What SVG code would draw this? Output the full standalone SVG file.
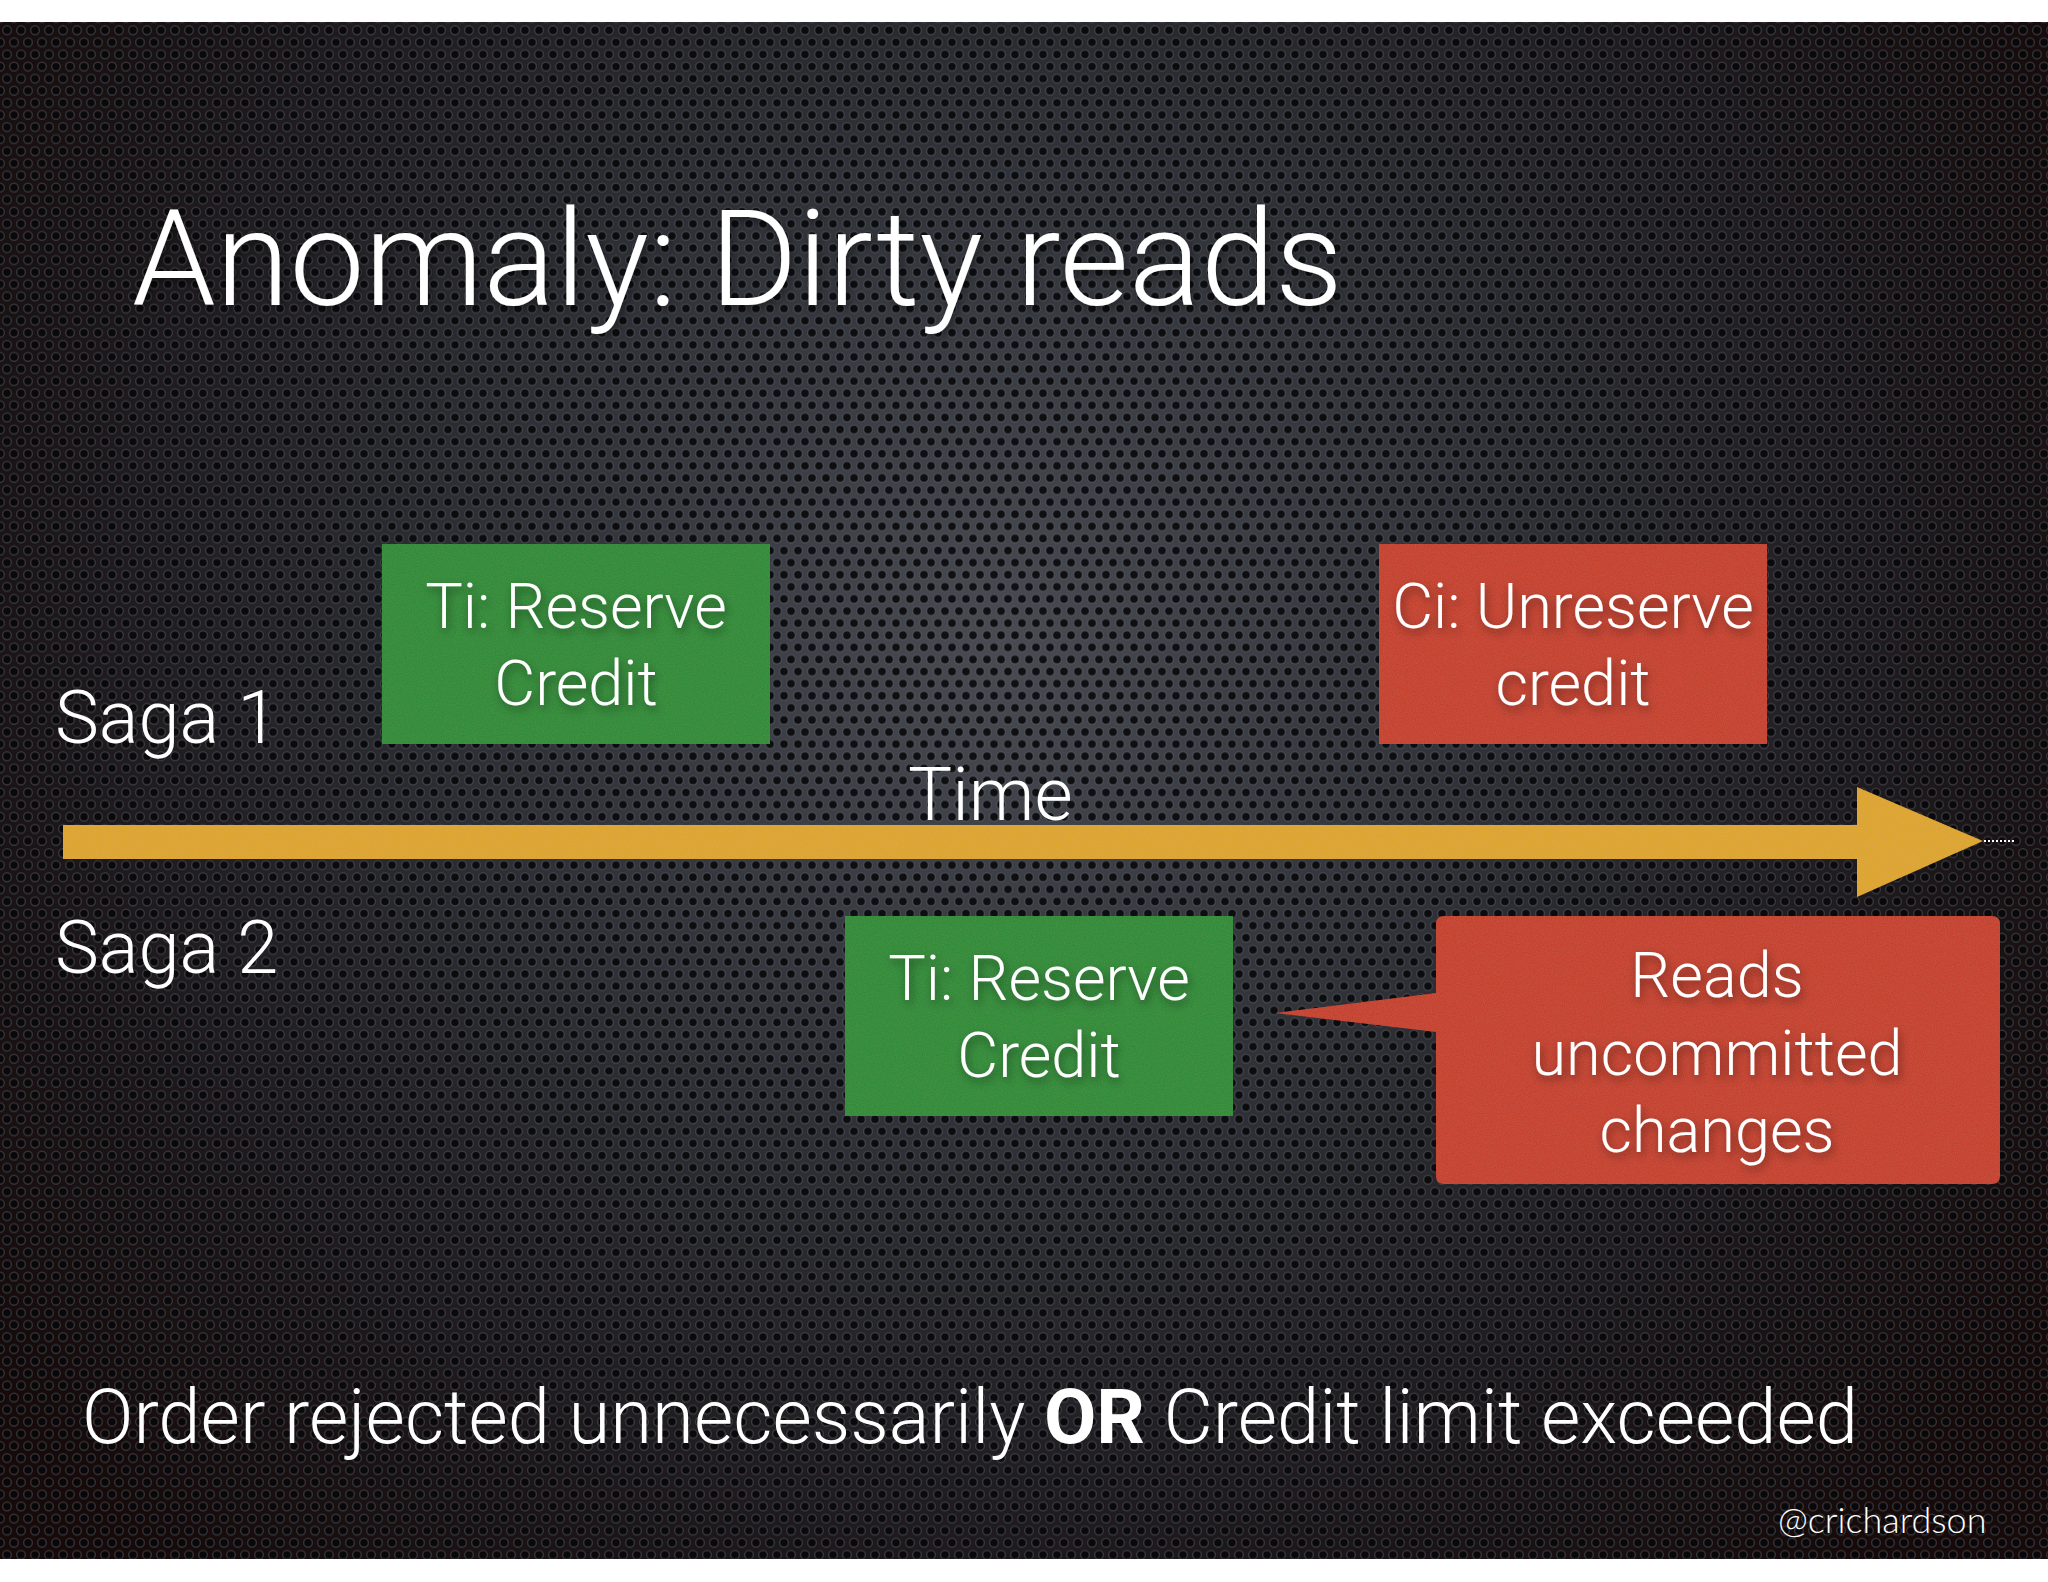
<svg xmlns="http://www.w3.org/2000/svg" width="2048" height="1582" viewBox="0 0 2048 1582">
  <defs>
    <radialGradient id="bg" cx="1000" cy="640" r="1250" gradientUnits="userSpaceOnUse">
      <stop offset="0" stop-color="#484b52"/>
      <stop offset="0.45" stop-color="#2c2e34"/>
      <stop offset="0.8" stop-color="#1a1416"/>
      <stop offset="1" stop-color="#160a0a"/>
    </radialGradient>
    <pattern id="holes" width="14" height="24.2" patternUnits="userSpaceOnUse">
      <circle cx="7" cy="6.05" r="4.3" class="hole"/>
      <circle cx="0" cy="18.15" r="4.3" class="hole"/>
      <circle cx="14" cy="18.15" r="4.3" class="hole"/>
    </pattern>
    <filter id="noise" x="0" y="0" width="100%" height="100%">
      <feTurbulence type="fractalNoise" baseFrequency="0.9" numOctaves="2" seed="3" result="n"/>
      <feColorMatrix in="n" type="matrix" values="0 0 0 0 1  0 0 0 0 1  0 0 0 0 1  0 0 0 0.05 0" result="w"/>
      <feComposite in="w" in2="SourceGraphic" operator="in" result="wc"/>
      <feMerge><feMergeNode in="SourceGraphic"/><feMergeNode in="wc"/></feMerge>
    </filter>
    <filter id="shadow" x="-20%" y="-30%" width="140%" height="160%">
      <feDropShadow dx="2" dy="4" stdDeviation="5" flood-color="#000" flood-opacity="0.45"/>
    </filter>
    <style>
      .hole { fill: #060608; fill-opacity: 0.85; stroke: #6a6e76; stroke-opacity: 0.4; stroke-width: 1.4; }
      .t { font-family: Roboto, "Liberation Sans", Arial, sans-serif; font-weight: 300; fill: #ffffff; }
      .box-text { font-size: 63px; text-anchor: middle; }
      .side { font-size: 74px; }
      .green { fill: #26892f; }
      .red { fill: #c43a20; }
      .handle { font-family: Lato, "Open Sans", "Liberation Sans", sans-serif; font-weight: 300; font-size: 36px; fill: #ffffff; }
    </style>
  </defs>

  <rect x="0" y="0" width="2048" height="1582" fill="#ffffff"/>
  <rect x="0" y="22" width="2048" height="1537" fill="url(#bg)"/>
  <rect x="0" y="22" width="2048" height="1537" fill="url(#holes)"/>

  <text class="t" x="132" y="305" font-size="134" filter="url(#shadow)">Anomaly: Dirty reads</text>

  <text class="t side" x="55" y="743">Saga 1</text>
  <text class="t side" x="55" y="973">Saga 2</text>

  <g id="connectors">
    <path d="M63,825 H1857 V787 L1983,841 L1857,897 V859 H63 Z" fill="#dda322" filter="url(#noise)"/>
    <line x1="1984" y1="841" x2="2014" y2="841" stroke="#ffffff" stroke-width="2" stroke-dasharray="2 2"/>
    <text class="t" x="908" y="820" font-size="74">Time</text>
  </g>

  <g id="node-saga1-ti">
    <rect class="green" x="382" y="544" width="388" height="200" filter="url(#noise)"/>
    <g filter="url(#shadow)">
      <text class="t box-text" x="576" y="628">Ti: Reserve</text>
      <text class="t box-text" x="576" y="705">Credit</text>
    </g>
  </g>

  <g id="node-saga1-ci">
    <rect class="red" x="1379" y="544" width="388" height="200" filter="url(#noise)"/>
    <g filter="url(#shadow)">
      <text class="t box-text" x="1573" y="628">Ci: Unreserve</text>
      <text class="t box-text" x="1573" y="705">credit</text>
    </g>
  </g>

  <g id="node-saga2-ti">
    <rect class="green" x="845" y="916" width="388" height="200" filter="url(#noise)"/>
    <g filter="url(#shadow)">
      <text class="t box-text" x="1039" y="1000">Ti: Reserve</text>
      <text class="t box-text" x="1039" y="1077">Credit</text>
    </g>
  </g>

  <g id="node-callout">
    <path class="red" d="M1444,916 H1992 Q2000,916 2000,924 V1176 Q2000,1184 1992,1184 H1444 Q1436,1184 1436,1176 V1032 L1275,1013 L1436,993 V924 Q1436,916 1444,916 Z" filter="url(#noise)"/>
    <g filter="url(#shadow)">
      <text class="t box-text" x="1717" y="997">Reads</text>
      <text class="t box-text" x="1717" y="1075">uncommitted</text>
      <text class="t box-text" x="1717" y="1152">changes</text>
    </g>
  </g>

  <text class="t" x="82" y="1443" font-size="76">Order rejected unnecessarily <tspan font-weight="700">OR</tspan> Credit limit exceeded</text>

  <text class="handle" x="1778" y="1533">@crichardson</text>
</svg>
